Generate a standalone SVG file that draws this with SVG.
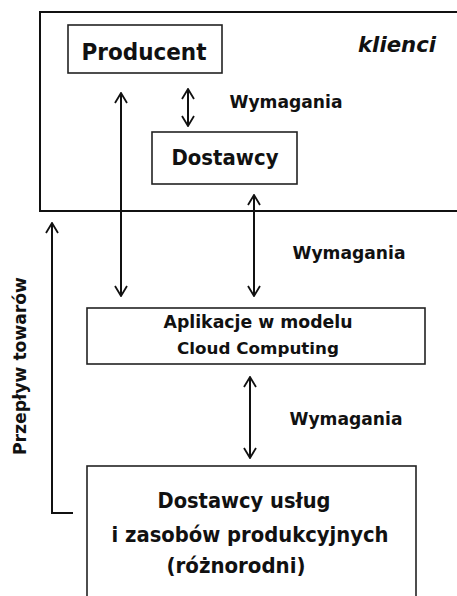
<svg xmlns="http://www.w3.org/2000/svg" width="457" height="596" viewBox="0 0 457 596">
  <defs>
    <marker id="v" viewBox="0 0 12 14" refX="11" refY="7" markerWidth="12" markerHeight="14" markerUnits="userSpaceOnUse" orient="auto-start-reverse">
      <path d="M1,1 L11,7 L1,13" fill="none" stroke="#111" stroke-width="1.8" stroke-linejoin="miter"/>
    </marker>
  </defs>
  <style>
    .box { fill: #fff; stroke: #222; stroke-width: 1.6; }
    .frame { fill: none; stroke: #111; stroke-width: 2; }
    .t { font-family: "DejaVu Sans", "Liberation Sans", sans-serif; font-weight: bold; fill: #111; text-anchor: middle; }
    .c { fill: none; stroke: #111; stroke-width: 2; }
  </style>
  <rect width="457" height="596" fill="#fff"/>

  <g id="klienci">
    <path class="frame" d="M457,12 H40 V211 H457"/>
    <text class="t" x="397" y="52" font-size="22" font-style="italic" textLength="78" lengthAdjust="spacingAndGlyphs">klienci</text>
  </g>

  <g id="producent">
    <rect class="box" x="68" y="25" width="154" height="48"/>
    <text class="t" x="144" y="60" font-size="23.5" textLength="125" lengthAdjust="spacingAndGlyphs">Producent</text>
  </g>

  <g id="dostawcy">
    <rect class="box" x="152" y="132" width="145" height="52"/>
    <text class="t" x="225" y="165" font-size="21.5" textLength="107" lengthAdjust="spacingAndGlyphs">Dostawcy</text>
  </g>

  <g id="aplikacje">
    <rect class="box" x="87" y="308" width="338" height="56"/>
    <text class="t" x="258" y="328" font-size="18" textLength="189" lengthAdjust="spacingAndGlyphs">Aplikacje w modelu</text>
    <text class="t" x="258" y="354" font-size="16.5" textLength="162" lengthAdjust="spacingAndGlyphs">Cloud Computing</text>
  </g>

  <g id="dostawcy-uslug">
    <rect class="box" x="87" y="466" width="329" height="150"/>
    <text class="t" x="244" y="508" font-size="21" textLength="173" lengthAdjust="spacingAndGlyphs">Dostawcy usług</text>
    <text class="t" x="250" y="542" font-size="21" textLength="277" lengthAdjust="spacingAndGlyphs">i zasobów produkcyjnych</text>
    <text class="t" x="236" y="573" font-size="21" textLength="139" lengthAdjust="spacingAndGlyphs">(różnorodni)</text>
  </g>

  <g id="connectors">
    <line class="c" x1="188" y1="89" x2="188" y2="126" marker-start="url(#v)" marker-end="url(#v)"/>
    <line class="c" x1="121" y1="93" x2="121" y2="296" marker-start="url(#v)" marker-end="url(#v)"/>
    <line class="c" x1="254" y1="195" x2="254" y2="296" marker-start="url(#v)" marker-end="url(#v)"/>
    <line class="c" x1="250" y1="377" x2="250" y2="458" marker-start="url(#v)" marker-end="url(#v)"/>
    <polyline class="c" points="73,513 52,513 52,223" marker-end="url(#v)"/>
  </g>

  <g id="labels">
    <text class="t" x="286" y="108" font-size="18" textLength="113" lengthAdjust="spacingAndGlyphs">Wymagania</text>
    <text class="t" x="349" y="259" font-size="18" textLength="113" lengthAdjust="spacingAndGlyphs">Wymagania</text>
    <text class="t" x="346" y="425" font-size="18" textLength="113" lengthAdjust="spacingAndGlyphs">Wymagania</text>
    <text class="t" x="0" y="0" font-size="18" textLength="178" lengthAdjust="spacingAndGlyphs" transform="translate(26,366) rotate(-90)">Przepływ towarów</text>
  </g>
</svg>
